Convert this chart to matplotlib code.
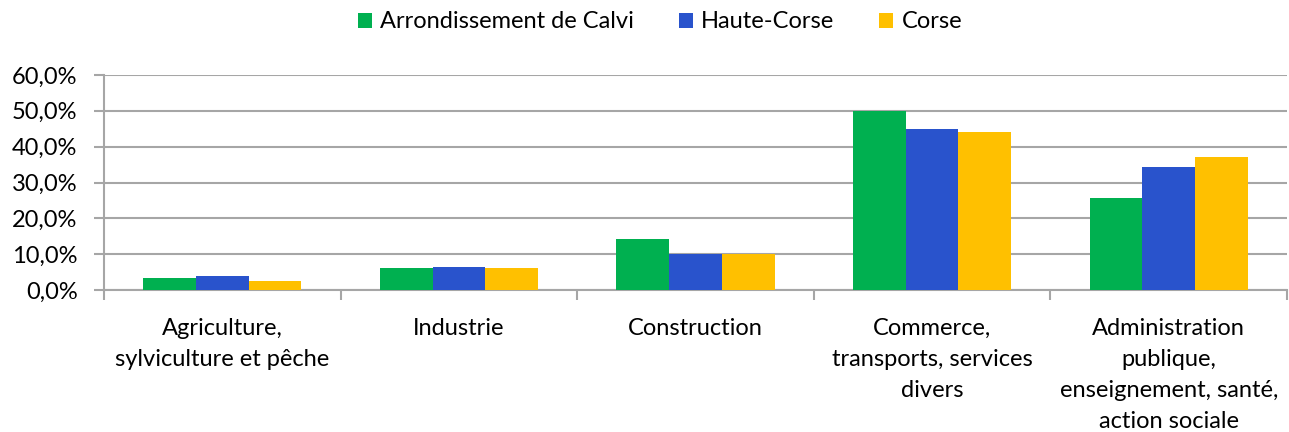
import matplotlib
matplotlib.use("Agg")
import matplotlib.pyplot as plt
import numpy as np
from matplotlib.ticker import FuncFormatter, FixedLocator

categories = ["Agriculture,\nsylviculture et pêche", "Industrie", "Construction",
              "Commerce,\ntransports, services\ndivers",
              "Administration\npublique,\nenseignement, santé,\naction sociale"]
series_names = ["Arrondissement de Calvi", "Haute-Corse", "Corse"]
calvi = [3.3, 6.1, 14.2, 50.0, 25.7]
haute_corse = [3.9, 6.4, 10.1, 44.8, 34.3]
corse = [2.5, 6.2, 10.1, 44.0, 37.0]
colors = ["#00B050", "#2953CC", "#FFC000"]

plt.rcParams['font.family'] = ['Lato', 'DejaVu Sans']
fig = plt.figure(figsize=(12.89, 4.32), dpi=100)
ax = fig.add_axes([104/1289, 1-290/432, 1183/1289, 215/432])

x = np.arange(len(categories))
w = 0.2227
for i, (vals, name, c) in enumerate(zip([calvi, haute_corse, corse], series_names, colors)):
    ax.bar(x + (i-1)*w, vals, width=w, color=c, label=name, zorder=3)

ax.set_xlim(-0.5, len(categories)-0.5)
ax.set_ylim(0, 60)
ax.set_yticks(np.arange(0, 61, 10))
ax.yaxis.set_major_formatter(FuncFormatter(lambda v, p: f"{v:.1f}%".replace(".", ",")))
ax.grid(axis='y', color='#A6A6A6', linewidth=1.5, zorder=0)
ax.set_xticks(x)
ax.set_xticklabels(categories, fontsize=17, linespacing=1.6, va='top')
ax.tick_params(axis='x', which='major', length=0, pad=20)
ax.xaxis.set_minor_locator(FixedLocator(np.arange(-0.5, len(categories), 1)))
ax.tick_params(axis='x', which='minor', length=7, width=1.5, color='#A6A6A6')
ax.tick_params(axis='y', length=7, width=1.5, color='#A6A6A6', labelsize=17, pad=12)
for s in ['top', 'right']:
    ax.spines[s].set_visible(False)
for s in ['left', 'bottom']:
    ax.spines[s].set_color('#A6A6A6')
    ax.spines[s].set_linewidth(1.5)

fig.legend(loc='center', bbox_to_anchor=(660/1289, 1-22/432), ncol=3, frameon=False,
           fontsize=17, handlelength=0.6, handleheight=0.6, handletextpad=0.35, columnspacing=1.9)
fig.savefig("out.png", dpi=100)
